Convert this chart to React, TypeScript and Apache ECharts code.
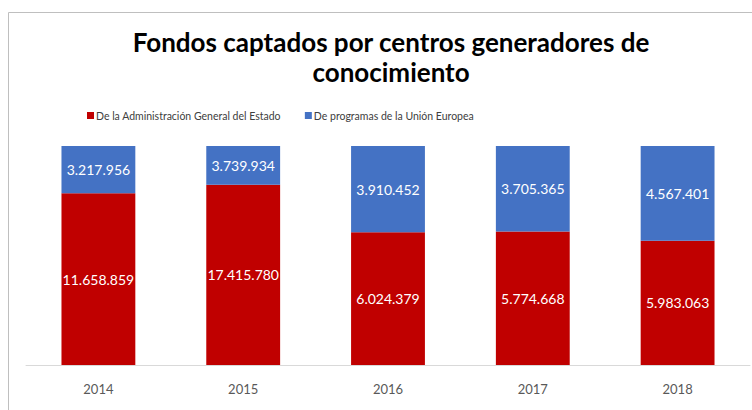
import React, { useEffect, useRef } from "react";
import * as echarts from "echarts";

const categories = ["2014", "2015", "2016", "2017", "2018"];
const seriesNames = ["De la Administración General del Estado", "De programas de la Unión Europea"];
const ageValues = [11658859, 17415780, 6024379, 5774668, 5983063];
const ueValues = [3217956, 3739934, 3910452, 3705365, 4567401];
const titleText = "Fondos captados por centros generadores de\nconocimiento";

const fmt = (v: number) => v.toString().replace(/\B(?=(\d{3})+(?!\d))/g, ".");

export default function App() {
  const ref = useRef<HTMLDivElement>(null);
  useEffect(() => {
    if (!ref.current) return;
    const chart = echarts.init(ref.current, null, { renderer: "svg" });
    const totals = ageValues.map((v, i) => v + ueValues[i]);
    const mk = (vals: number[]) =>
      vals.map((v, i) => ({ value: (v / totals[i]) * 100, raw: v }));
    const labelCfg = {
      show: true,
      position: "inside",
      color: "#ffffff",
      fontSize: 14,
      fontFamily: "Lato",
      formatter: (p: any) => fmt(p.data.raw),
    };
    chart.setOption({
      animation: false,
      backgroundColor: "#ffffff",
      textStyle: { fontFamily: "Lato" },
      graphic: [
        {
          type: "rect",
          shape: { x: 8.5, y: 12.5, width: 800, height: 500 },
          style: { fill: "none", stroke: "#bfbfbf", lineWidth: 1 },
          silent: true,
        },
      ],
      title: {
        text: titleText,
        left: 386,
        textAlign: "center",
        top: 22,
        textStyle: {
          fontFamily: "Lato",
          fontSize: 26,
          fontWeight: "bold",
          color: "#000000",
          lineHeight: 30,
        },
      },
      legend: {
        top: 105,
        left: 82,
        itemWidth: 7,
        itemHeight: 7,
        itemGap: 24,
        icon: "rect",
        textStyle: { fontFamily: "Lato", fontSize: 10.5, color: "#404040", padding: [0, 0, 0, -3] },
        data: seriesNames,
      },
      grid: { left: 26, right: 2, top: 146, bottom: 45 },
      xAxis: {
        type: "category",
        data: categories,
        axisLine: { lineStyle: { color: "#d9d9d9" } },
        axisTick: { show: false },
        axisLabel: { color: "#595959", fontSize: 13, fontFamily: "Lato", margin: 17 },
      },
      yAxis: { type: "value", min: 0, max: 100, show: false, splitLine: { show: false } },
      series: [
        {
          name: seriesNames[0],
          type: "bar",
          stack: "s",
          barWidth: "51%",
          itemStyle: { color: "#c00000" },
          label: labelCfg,
          data: mk(ageValues),
        },
        {
          name: seriesNames[1],
          type: "bar",
          stack: "s",
          barWidth: "51%",
          itemStyle: { color: "#4472c4" },
          label: labelCfg,
          data: mk(ueValues),
        },
      ],
    });
    return () => chart.dispose();
  }, []);
  return (
    <div
      ref={ref}
      style={{ position: "fixed", left: 0, top: 0, width: 752, height: 410 }}
    />
  );
}
